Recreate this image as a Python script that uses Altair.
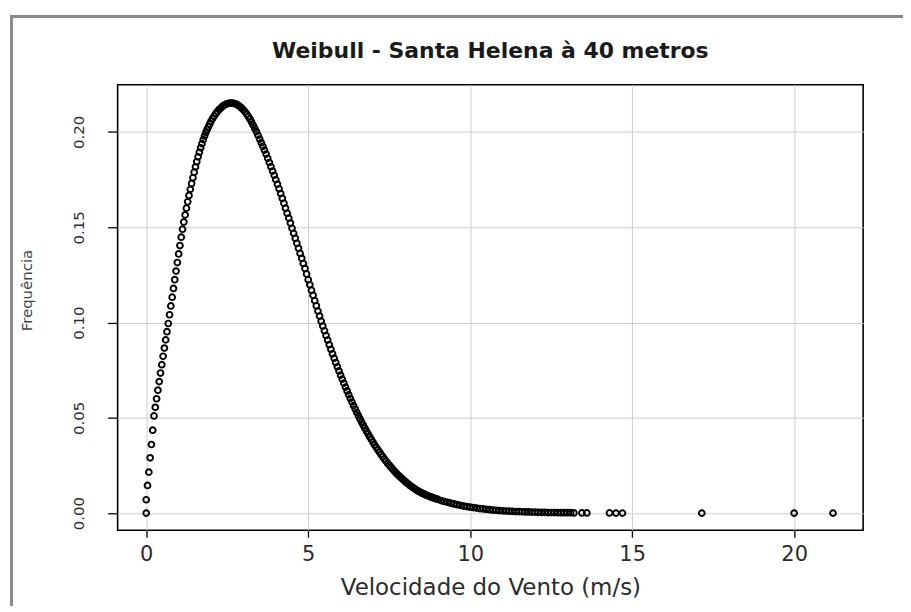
import altair as alt
import pandas as pd

# ---- texts ----
title_text = "Weibull - Santa Helena à 40 metros"
x_title = "Velocidade do Vento (m/s)"
y_title = "Frequência"
x_ticks = [0, 5, 10, 15, 20]
y_ticks = [0.00, 0.05, 0.10, 0.15, 0.20]

# ---- (wind speed, frequency) pairs ----
rise = [
    (0.00, 0.0000), (0.00, 0.0070), (0.04, 0.0145), (0.08, 0.0215), (0.12, 0.0290),
    (0.16, 0.0360), (0.20, 0.0435), (0.24, 0.0510), (0.28, 0.0555), (0.32, 0.0600),
    (0.36, 0.0645), (0.40, 0.0690), (0.44, 0.0735), (0.48, 0.0779), (0.52, 0.0823),
    (0.56, 0.0866), (0.60, 0.0909), (0.64, 0.0952), (0.68, 0.0995), (0.72, 0.1041),
    (0.76, 0.1087), (0.80, 0.1133), (0.84, 0.1179), (0.88, 0.1225), (0.92, 0.1270),
    (0.96, 0.1315), (1.00, 0.1360), (1.04, 0.1404), (1.08, 0.1448), (1.12, 0.1490),
    (1.16, 0.1528), (1.20, 0.1565), (1.24, 0.1600), (1.28, 0.1634), (1.32, 0.1667),
    (1.36, 0.1699), (1.40, 0.1730), (1.44, 0.1760), (1.48, 0.1789), (1.52, 0.1817),
    (1.56, 0.1844), (1.60, 0.1870), (1.64, 0.1894), (1.68, 0.1917), (1.72, 0.1939),
    (1.76, 0.1960), (1.80, 0.1979), (1.84, 0.1997), (1.88, 0.2013), (1.92, 0.2028),
    (1.96, 0.2042),
]
peak = [
    (2.00, 0.2056), (2.05, 0.2071), (2.10, 0.2084), (2.15, 0.2097), (2.20, 0.2108),
    (2.25, 0.2118), (2.30, 0.2126), (2.35, 0.2134), (2.40, 0.2140), (2.45, 0.2145),
    (2.50, 0.2148), (2.55, 0.2151), (2.60, 0.2152), (2.65, 0.2152), (2.70, 0.2150),
    (2.75, 0.2148), (2.80, 0.2144), (2.85, 0.2139), (2.90, 0.2132), (2.95, 0.2125),
    (3.00, 0.2116), (3.05, 0.2106), (3.10, 0.2094), (3.15, 0.2082), (3.20, 0.2068),
    (3.25, 0.2053), (3.30, 0.2036), (3.35, 0.2019), (3.40, 0.2002),
]
fall = [
    (3.45, 0.1983), (3.50, 0.1963), (3.55, 0.1944), (3.60, 0.1925), (3.65, 0.1905),
    (3.70, 0.1884), (3.75, 0.1862), (3.80, 0.1840), (3.85, 0.1818), (3.90, 0.1795),
    (3.95, 0.1773), (4.00, 0.1750), (4.05, 0.1726), (4.10, 0.1702), (4.15, 0.1677),
    (4.20, 0.1652), (4.25, 0.1626), (4.30, 0.1600), (4.35, 0.1574), (4.40, 0.1548),
    (4.45, 0.1522), (4.50, 0.1495), (4.55, 0.1468), (4.60, 0.1442), (4.65, 0.1416),
    (4.70, 0.1390), (4.75, 0.1363), (4.80, 0.1337), (4.85, 0.1310), (4.90, 0.1284),
    (4.95, 0.1255), (5.00, 0.1225), (5.05, 0.1198), (5.10, 0.1170), (5.15, 0.1143),
    (5.20, 0.1115), (5.25, 0.1088), (5.30, 0.1060), (5.35, 0.1034), (5.40, 0.1007),
    (5.45, 0.0982), (5.50, 0.0957), (5.55, 0.0932), (5.60, 0.0908), (5.65, 0.0884),
    (5.70, 0.0860), (5.75, 0.0836), (5.80, 0.0813), (5.85, 0.0790), (5.90, 0.0768),
    (5.95, 0.0746), (6.00, 0.0724), (6.05, 0.0703), (6.10, 0.0682), (6.15, 0.0661),
    (6.20, 0.0641), (6.25, 0.0621), (6.30, 0.0602), (6.35, 0.0583), (6.40, 0.0564),
    (6.45, 0.0546), (6.50, 0.0528), (6.55, 0.0511), (6.60, 0.0494), (6.65, 0.0477),
    (6.70, 0.0461), (6.75, 0.0445), (6.80, 0.0430), (6.85, 0.0415), (6.90, 0.0400),
    (6.95, 0.0386), (7.00, 0.0372), (7.05, 0.0358), (7.10, 0.0345), (7.15, 0.0332),
    (7.20, 0.0320), (7.25, 0.0308), (7.30, 0.0296), (7.35, 0.0284), (7.40, 0.0273),
    (7.45, 0.0262), (7.50, 0.0252), (7.55, 0.0242), (7.60, 0.0232), (7.65, 0.0222),
    (7.70, 0.0213), (7.75, 0.0204), (7.80, 0.0196), (7.85, 0.0188), (7.90, 0.0180),
    (7.95, 0.0172), (8.00, 0.0165), (8.05, 0.0158), (8.10, 0.0151), (8.15, 0.0144),
    (8.20, 0.0138), (8.25, 0.0132), (8.30, 0.0126), (8.35, 0.0120), (8.40, 0.0115),
    (8.45, 0.0110), (8.50, 0.0106), (8.55, 0.0102), (8.60, 0.0098), (8.65, 0.0094),
    (8.70, 0.0091), (8.75, 0.0087), (8.80, 0.0084), (8.85, 0.0081), (8.90, 0.0078),
    (8.95, 0.0075), (9.00, 0.0072),
]
tail = [
    (9.1, 0.0066), (9.2, 0.0061), (9.3, 0.0057), (9.4, 0.0052), (9.5, 0.0048),
    (9.6, 0.0044), (9.7, 0.0041), (9.8, 0.0037), (9.9, 0.0034), (10.0, 0.0031),
    (10.1, 0.0029), (10.2, 0.0026), (10.3, 0.0024), (10.4, 0.0022), (10.5, 0.0020),
    (10.6, 0.0018), (10.7, 0.0016), (10.8, 0.0015), (10.9, 0.0013), (11.0, 0.0012),
    (11.1, 0.0011), (11.2, 0.0010), (11.3, 0.0009), (11.4, 0.0008), (11.5, 0.0008),
    (11.6, 0.0007), (11.7, 0.0006), (11.8, 0.0006), (11.9, 0.0005), (12.0, 0.0005),
    (12.1, 0.0004), (12.2, 0.0004), (12.3, 0.0004), (12.4, 0.0003), (12.5, 0.0003),
    (12.6, 0.0003), (12.7, 0.0002), (12.8, 0.0002), (12.9, 0.0002), (13.0, 0.0002),
    (13.1, 0.0002), (13.2, 0.0001),
]
sparse = [
    (13.45, 0.0001), (13.60, 0.0001), (14.30, 0.0001), (14.50, 0.0000),
    (14.70, 0.0000), (17.15, 0.0000), (20.00, 0.0000), (21.20, 0.0000),
]

df = pd.DataFrame(rise + peak + fall + tail + sparse, columns=["vel", "freq"])

TXT = "#2b2b2b"

points = alt.Chart(df).mark_point(
    shape="circle", filled=False, color="black", size=34, strokeWidth=1.9, opacity=1
).encode(
    x=alt.X(
        "vel:Q",
        scale=alt.Scale(domain=[-0.883, 22.13], nice=False, zero=False),
        axis=alt.Axis(
            values=x_ticks, title=x_title, domain=False, grid=True,
            gridColor="#cdcdcd", gridWidth=1,
            tickSize=7, tickColor="black", tickWidth=1.3,
            labelFont="DejaVu Sans", labelFontSize=21, labelColor=TXT,
            labelPadding=6, labelFlush=False,
            titleFont="DejaVu Sans", titleFontSize=23, titleFontWeight="normal",
            titleColor=TXT, titleBaseline="alphabetic", titleY=64,
        ),
    ),
    y=alt.Y(
        "freq:Q",
        scale=alt.Scale(domain=[-0.0090, 0.2248], nice=False, zero=False),
        axis=alt.Axis(
            values=y_ticks, format=".2f", title=y_title, domain=False, grid=True,
            gridColor="#cdcdcd", gridWidth=1,
            tickSize=10, tickColor="black", tickWidth=1.3,
            labelFont="DejaVu Sans", labelFontSize=15, labelColor=TXT,
            labelAngle=270, labelAlign="center", labelBaseline="bottom",
            labelPadding=21, labelFlush=False,
            titleFont="DejaVu Sans", titleFontSize=15, titleFontWeight="normal",
            titleColor="#444444", titleAngle=270, titleAlign="center",
            titleBaseline="alphabetic", titleX=-86, titleY=206,
        ),
    ),
)

deco = pd.DataFrame({"k": [0]})
frame_top = alt.Chart(deco).mark_rule(color="#8a8a8a", strokeWidth=3).encode(
    x=alt.value(-108), x2=alt.value(800), y=alt.value(-68.5)
)
frame_left = alt.Chart(deco).mark_rule(color="#8a8a8a", strokeWidth=3).encode(
    x=alt.value(-106.5), y=alt.value(-70), y2=alt.value(530)
)

chart = alt.layer(frame_top, frame_left, points).properties(
    width=748,
    height=447,
    autosize=alt.AutoSizeParams(type="none"),
    padding={"left": 110, "top": 76, "right": 40, "bottom": 75},
    title=alt.TitleParams(
        text=title_text, font="DejaVu Sans", fontSize=22, fontWeight="bold",
        color="#1a1a1a", anchor="middle", baseline="alphabetic", offset=-67,
        frame="group",
    ),
    background="white",
).configure_view(stroke="black", strokeWidth=1.6)

chart.save("out.html", embed_options={"renderer": "svg", "actions": False})
